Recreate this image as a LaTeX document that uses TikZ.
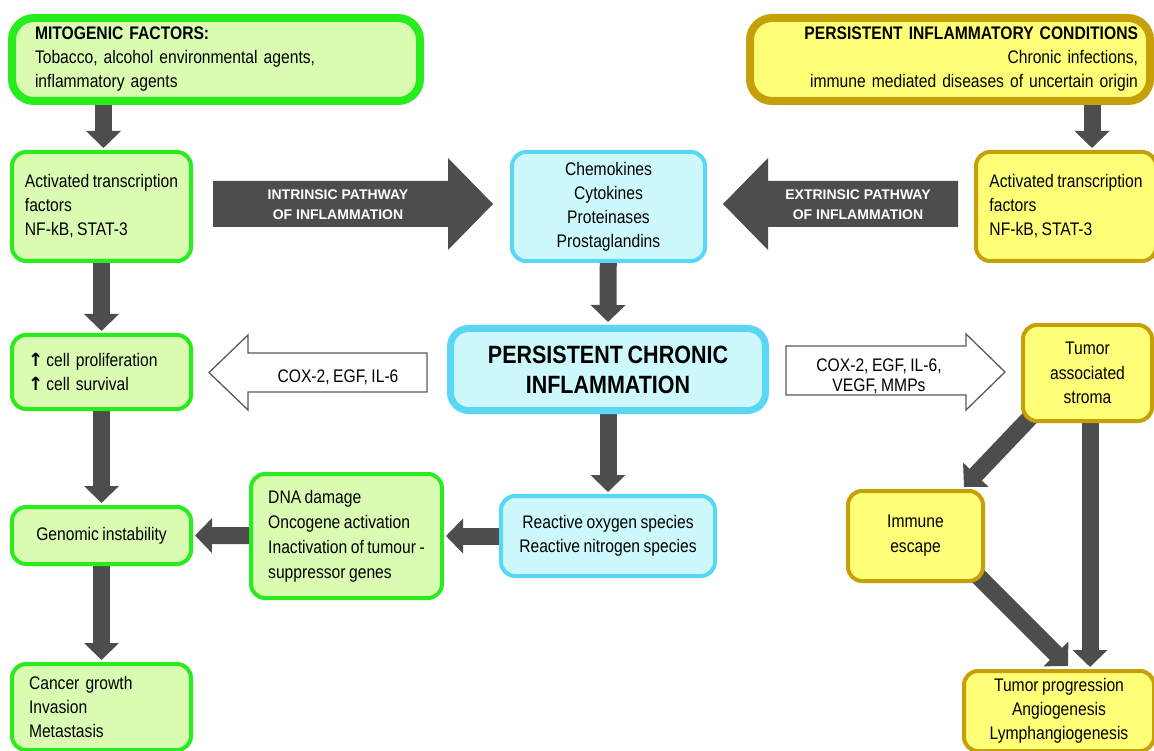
\documentclass[tikz,border=0pt]{standalone}
\usepackage{fontspec}
\setmainfont{Liberation Sans}[FakeStretch=0.86, WordSpace=0.8]
\newfontfamily\widesans{Liberation Sans}
\newfontfamily\dejavu{DejaVu Sans}
\usetikzlibrary{arrows.meta,calc}
\definecolor{greenB}{RGB}{40,236,30}
\definecolor{greenF}{RGB}{218,251,178}
\definecolor{cyanB}{RGB}{90,215,245}
\definecolor{cyanF}{RGB}{205,249,252}
\definecolor{yelB}{RGB}{198,160,10}
\definecolor{yelF}{RGB}{255,255,120}
\definecolor{agray}{RGB}{77,77,77}
\definecolor{hgray}{RGB}{90,90,90}
\newcommand{\uparr}{{\dejavu\bfseries ↑}}
\pgfdeclarelayer{background}
\pgfsetlayers{background,main}
\tikzset{
  box/.style={draw, rounded corners=14pt, line width=4pt, inner sep=0pt},
  gbox/.style={box, draw=greenB, fill=greenF},
  cbox/.style={box, draw=cyanB, fill=cyanF},
  ybox/.style={box, draw=yelB, fill=yelF},
  arr/.style={draw=agray, line width=17pt, -{Triangle[length=17pt,width=34pt]}},
  bigarrow/.style={fill=agray},
  hollow/.style={draw=hgray, fill=white, line width=1.3pt},
  pathlabel/.style={text=white, align=center, inner sep=0pt, font=\widesans\bfseries\fontsize{14}{20}\selectfont},
  hlabel/.style={align=center, inner sep=0pt}
}
\begin{document}
\begin{tikzpicture}[x=1pt,y=-1pt,font=\fontsize{18.2}{24}\selectfont]
\useasboundingbox (0,0) rectangle (1154,751);
\clip (0,0) rectangle (1154,751);

% top boxes
\node[gbox, line width=8pt, rounded corners=22pt, minimum width=408pt, minimum height=83pt, text width=362pt, align=left] (mito) at (216,59.5)
  {\textbf{MITOGENIC FACTORS:}\\Tobacco, alcohol environmental agents,\\inflammatory agents};
\node[ybox, line width=8pt, rounded corners=22pt, minimum width=400pt, minimum height=83pt, text width=376pt, align=right] (pic) at (950,59.5)
  {\textbf{PERSISTENT INFLAMMATORY CONDITIONS}\\Chronic infections,\\immune mediated diseases of uncertain origin};

% left column
\node[gbox, minimum width=179pt, minimum height=109pt, align=left] (atf1) at (101.5,206.5)
  {Activated transcription\\factors\\NF-kB, STAT-3};
\node[gbox, minimum width=179pt, minimum height=74pt, text width=147pt, align=left] (prol) at (101.5,372)
  {\uparr\,cell proliferation\\\uparr\,cell survival};
\node[gbox, minimum width=179pt, minimum height=57pt] (geno) at (101.5,535.5) {Genomic instability};
\node[gbox, minimum width=179pt, minimum height=86pt, text width=145pt, align=left] (canc) at (101.5,707)
  {Cancer growth\\Invasion\\Metastasis};

% middle
\node[cbox, minimum width=193pt, minimum height=109pt, align=center] (chem) at (608.5,206.5)
  {Chemokines\\Cytokines\\Proteinases\\Prostaglandins};
\node[cbox, line width=7pt, rounded corners=18pt, minimum width=315pt, minimum height=82pt, align=center,
  font=\fontsize{25}{30}\selectfont\bfseries] (pci) at (608,369.5) {PERSISTENT CHRONIC\\INFLAMMATION};
\node[cbox, minimum width=214pt, minimum height=80pt, align=center] (ros) at (608,536)
  {Reactive oxygen species\\Reactive nitrogen species};
\node[gbox, minimum width=191pt, minimum height=124pt, align=left, font=\fontsize{18.2}{25}\selectfont] (dna) at (346.5,536)
  {DNA damage\\Oncogene activation\\Inactivation of tumour -\\suppressor genes};

% right column
\node[ybox, minimum width=180pt, minimum height=109pt, align=left] (atf2) at (1066,206.5)
  {Activated transcription\\factors\\NF-kB, STAT-3};
\node[ybox, minimum width=129pt, minimum height=96pt, align=center, font=\fontsize{18.2}{24.5}\selectfont] (strom) at (1087.5,373)
  {Tumor\\associated\\stroma};
\node[ybox, minimum width=135pt, minimum height=90pt, align=center, font=\fontsize{18.2}{25}\selectfont] (imm) at (915.5,536)
  {Immune\\escape};
\node[ybox, minimum width=190pt, minimum height=80pt, align=center] (prog) at (1059,711)
  {Tumor progression\\Angiogenesis\\Lymphangiogenesis};

% big pathway arrows
\fill[bigarrow] (213,181) -- (448,181) -- (448,158) -- (493,204) -- (448,250) -- (448,227) -- (213,227) -- cycle;
\node[pathlabel] (intr) at (338,205) {INTRINSIC PATHWAY\\OF INFLAMMATION};
\fill[bigarrow] (958,181) -- (768,181) -- (768,158) -- (723,204) -- (768,250) -- (768,227) -- (958,227) -- cycle;
\node[pathlabel] (extr) at (858,205) {EXTRINSIC PATHWAY\\OF INFLAMMATION};

% hollow arrows
\filldraw[hollow] (427,353) -- (248,353) -- (248,335) -- (209,372.5) -- (248,410) -- (248,392) -- (427,392) -- cycle;
\node[hlabel] (hl) at (338,377) {COX-2, EGF, IL-6};
\filldraw[hollow] (786,346) -- (966,346) -- (966,334) -- (1005,372) -- (966,410) -- (966,395) -- (786,395) -- cycle;
\node[hlabel, font=\fontsize{18.2}{20}\selectfont] (hr) at (879,376) {COX-2, EGF, IL-6,\\VEGF, MMPs};

% connectors (behind boxes)
\begin{pgfonlayer}{background}
\fill[white] (0,0) rectangle (1154,751);
\coordinate (c0) at ($(atf1.north)+(2,0)$);
\draw[arr] (mito.south -| c0) -- ([yshift=2pt]c0);
\draw[arr] (atf1) -- ([yshift=2pt]prol.north);
\draw[arr] (prol) -- ([yshift=2pt]geno.north);
\draw[arr] (geno) -- ([yshift=2pt]canc.north);
\draw[arr] (chem) -- ([yshift=3pt]pci.north);
\draw[arr] (pci) -- ([yshift=2pt]ros.north);
\draw[arr] (ros) -- ([xshift=2pt]dna.east);
\draw[arr] (dna) -- ([xshift=2pt]geno.east);
\coordinate (c1) at ($(atf2.north)+(26,0)$);
\draw[arr] (pic.south -| c1) -- ([yshift=2pt]c1);
\coordinate (c2) at ($(strom.south)+(2.5,0)$);
\coordinate (c3) at (c2 |- prog.north);
\draw[arr] (c2) -- ([yshift=2pt]c3);
\coordinate (d1) at ($(strom.south west)+(22,-19)$);
\coordinate (d2) at ($(imm.north east)+(-21,-2)$);
\draw[arr] (d1) -- (d2);
\coordinate (e1) at ($(imm.south east)+(-13,-13)$);
\coordinate (e2) at ($(prog.north)+(9,-3)$);
\draw[arr] (e1) -- (e2);
\end{pgfonlayer}
\end{tikzpicture}
\end{document}
